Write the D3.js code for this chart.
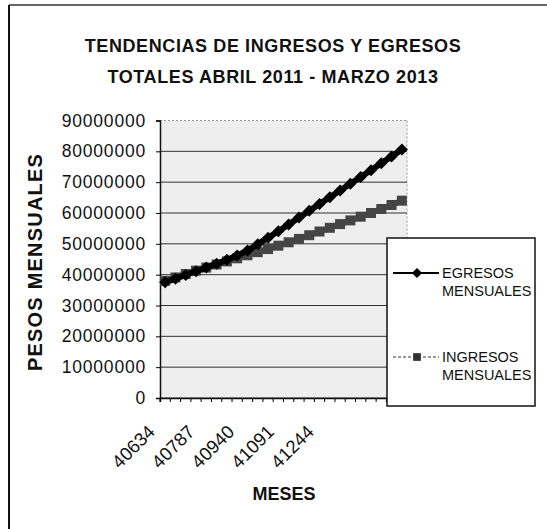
<!DOCTYPE html>
<html>
<head>
    <meta charset="utf-8">
    <title>Tendencias de ingresos y egresos</title>
    <script src="https://d3js.org/d3.v7.min.js"></script>
    <style>
        body { margin: 0; background: #fff; }
        text { font-family: "Liberation Sans", Arial, sans-serif; fill: #111; }
    </style>
</head>
<body>
    <div id="chart"></div>

    <script>
        // Meses (serial de fecha de Excel), abril 2011 - marzo 2013
        const meses = [40634, 40664, 40695, 40725, 40756, 40787, 40817, 40848,
                       40878, 40909, 40940, 40969, 41000, 41030, 41061, 41091,
                       41122, 41153, 41183, 41214, 41244, 41275, 41306, 41334];

        // valores (millones de pesos)
        const egresos = [37.5, 38.7, 39.9, 41.1, 42.3, 43.5, 44.8, 46.2,
                         47.8, 49.9, 52.0, 54.1, 56.3, 58.5, 60.7, 62.9,
                         65.1, 67.3, 69.5, 71.7, 73.9, 76.1, 78.3, 80.6].map(v => v * 1e6);
        const ingresos = [38.0, 39.1, 40.2, 41.3, 42.3, 43.3, 44.3, 45.3,
                          46.3, 47.3, 48.3, 49.4, 50.5, 51.6, 52.8, 54.0,
                          55.2, 56.4, 57.6, 58.8, 60.0, 61.3, 62.6, 64.0].map(v => v * 1e6);

        const yTicks = [0, 10000000, 20000000, 30000000, 40000000,
                        50000000, 60000000, 70000000, 80000000, 90000000];
        const xTickLabels = ["40634", "40787", "40940", "41091", "41244"];

        const W = 547, H = 529;
        const plot = { left: 160, right: 407, top: 120.5, bottom: 398 };

        const svg = d3.select("#chart")
          .append("svg")
            .attr("width", W)
            .attr("height", H);

        // marco del grafico (solo arriba e izquierda en el escaneo)
        svg.append("line")
            .attr("x1", 9).attr("x2", W).attr("y1", 5).attr("y2", 5)
            .attr("stroke", "#666").attr("stroke-width", 2);
        svg.append("line")
            .attr("x1", 9).attr("x2", 9).attr("y1", 5).attr("y2", H)
            .attr("stroke", "#111").attr("stroke-width", 2);

        // titulo
        const title = svg.append("text")
            .attr("text-anchor", "middle")
            .style("font-size", "18px")
            .style("font-weight", "bold")
            .style("letter-spacing", "0.6px");
        title.append("tspan").attr("x", 273).attr("y", 52).text("TENDENCIAS DE INGRESOS Y EGRESOS");
        title.append("tspan").attr("x", 273).attr("y", 83).text("TOTALES ABRIL 2011 - MARZO 2013");

        const x = d3.scaleBand()
          .domain(meses)
          .range([plot.left, plot.right]);

        const y = d3.scaleLinear()
          .domain([0, 90000000])
          .range([plot.bottom, plot.top]);

        // fondo del area de trazado
        svg.append("rect")
            .attr("x", plot.left).attr("y", plot.top)
            .attr("width", plot.right - plot.left)
            .attr("height", plot.bottom - plot.top)
            .attr("fill", "#eeeeee");

        // borde derecho punteado
        svg.append("line")
            .attr("x1", plot.right).attr("x2", plot.right)
            .attr("y1", plot.top).attr("y2", plot.bottom)
            .attr("stroke", "#999").attr("stroke-dasharray", "2,2");

        // lineas de division
        svg.append("g")
          .selectAll("line")
          .data(yTicks)
          .join("line")
            .attr("x1", plot.left).attr("x2", plot.right)
            .attr("y1", d => y(d)).attr("y2", d => y(d))
            .attr("stroke", d => d === 90000000 ? "#999" : "#333")
            .attr("stroke-dasharray", d => d === 90000000 ? "2,2" : null)
            .attr("stroke-width", 1);

        // eje Y
        const yAxis = svg.append("g")
            .attr("transform", `translate(${plot.left},0)`)
            .call(d3.axisLeft(y).tickValues(yTicks).tickFormat(d3.format("d")).tickSize(4).tickPadding(10));
        yAxis.select(".domain").attr("stroke", "#111").attr("stroke-width", 1.5);
        yAxis.selectAll("text")
            .style("font-size", "17.5px")
            .style("letter-spacing", "0.8px")
            .style("font-family", "'Liberation Sans', Arial, sans-serif");

        // eje X (marcas entre categorias)
        const xAxis = svg.append("g")
            .attr("transform", `translate(0,${plot.bottom})`)
            .call(d3.axisBottom(x).tickSize(4).tickFormat(""));
        xAxis.selectAll(".tick").attr("transform", d => `translate(${x(d)},0)`);
        xAxis.select(".domain").attr("stroke", "#111").attr("stroke-width", 1.5);

        // etiquetas del eje X, rotadas
        const xl = d3.scalePoint()
          .domain(xTickLabels)
          .range([156, 315]);
        svg.append("g")
          .selectAll("text")
          .data(xTickLabels)
          .join("text")
            .attr("text-anchor", "end")
            .attr("transform", d => `translate(${xl(d)},433) rotate(-45)`)
            .style("font-size", "18.5px")
            .text(d => d);

        // titulos de ejes
        svg.append("text")
            .attr("text-anchor", "middle")
            .attr("transform", "translate(42,262) rotate(-90)")
            .style("font-size", "20px")
            .style("font-weight", "bold")
            .style("letter-spacing", "1.2px")
            .text("PESOS MENSUALES");

        svg.append("text")
            .attr("x", 284).attr("y", 500)
            .attr("text-anchor", "middle")
            .style("font-size", "18px")
            .style("font-weight", "bold")
            .text("MESES");

        const cx = d => x(d) + x.bandwidth() / 2;

        // serie ingresos
        const lineIng = d3.line().x((d, i) => cx(meses[i])).y(d => y(d));
        svg.append("path")
            .datum(ingresos)
            .attr("d", lineIng)
            .attr("fill", "none")
            .attr("stroke", "#4a4a4a")
            .attr("stroke-width", 6);
        svg.append("g")
          .selectAll("path")
          .data(ingresos)
          .join("path")
            .attr("d", d3.symbol(d3.symbolSquare, 100))
            .attr("transform", (d, i) => `translate(${cx(meses[i])},${y(d)})`)
            .attr("fill", "#454545");

        // serie egresos
        const lineEgr = d3.line().x((d, i) => cx(meses[i])).y(d => y(d));
        svg.append("path")
            .datum(egresos)
            .attr("d", lineEgr)
            .attr("fill", "none")
            .attr("stroke", "#000")
            .attr("stroke-width", 6);
        svg.append("g")
          .selectAll("path")
          .data(egresos)
          .join("path")
            .attr("d", d3.symbol(d3.symbolSquare, 72))
            .attr("transform", (d, i) => `translate(${cx(meses[i])},${y(d)}) rotate(45)`)
            .attr("fill", "#000");

        // leyenda
        const legend = svg.append("g");
        legend.append("rect")
            .attr("x", 387).attr("y", 238)
            .attr("width", 148).attr("height", 168)
            .attr("fill", "#fff")
            .attr("stroke", "#111")
            .attr("stroke-width", 1.5);

        legend.append("line")
            .attr("x1", 393).attr("x2", 439).attr("y1", 273).attr("y2", 273)
            .attr("stroke", "#000").attr("stroke-width", 2);
        legend.append("path")
            .attr("d", d3.symbol(d3.symbolSquare, 52))
            .attr("transform", "translate(417,273) rotate(45)")
            .attr("fill", "#000");
        const t1 = legend.append("text").style("font-size", "14.5px");
        t1.append("tspan").attr("x", 442).attr("y", 278).text("EGRESOS");
        t1.append("tspan").attr("x", 442).attr("y", 296).text("MENSUALES");

        legend.append("line")
            .attr("x1", 393).attr("x2", 439).attr("y1", 357).attr("y2", 357)
            .attr("stroke", "#333").attr("stroke-width", 1.2)
            .attr("stroke-dasharray", "3,2");
        legend.append("path")
            .attr("d", d3.symbol(d3.symbolSquare, 60))
            .attr("transform", "translate(417,357)")
            .attr("fill", "#333");
        const t2 = legend.append("text").style("font-size", "14.5px");
        t2.append("tspan").attr("x", 442).attr("y", 362).text("INGRESOS");
        t2.append("tspan").attr("x", 442).attr("y", 380).text("MENSUALES");
    </script>
</body>
</html>
